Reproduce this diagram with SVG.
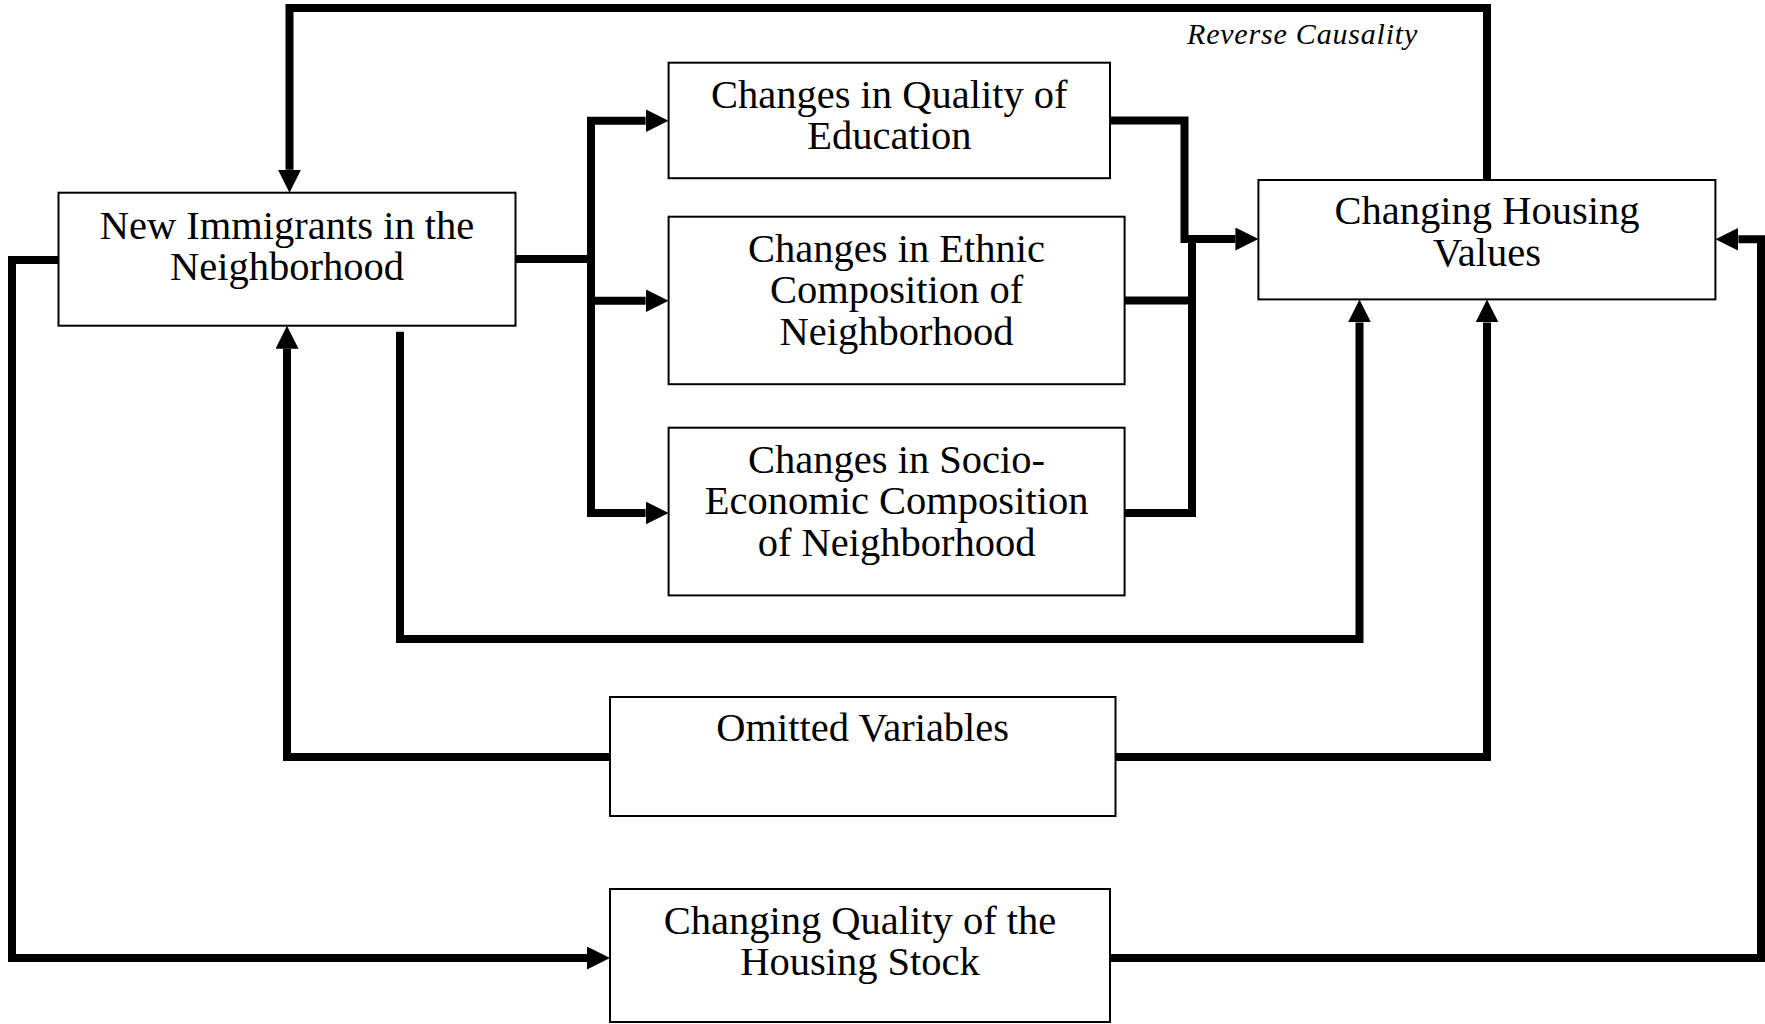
<svg xmlns="http://www.w3.org/2000/svg" width="1765" height="1024" viewBox="0 0 1765 1024">
<style>
.box{fill:#fff;stroke:#000;stroke-width:2}
.lbl{font-family:"Liberation Serif","Times New Roman",serif;font-size:40.5px;fill:#000;text-anchor:middle}
.note{font-family:"Liberation Serif","Times New Roman",serif;font-size:30px;font-style:italic;fill:#000;letter-spacing:0.8px}
.c{fill:none;stroke:#000;stroke-width:8;stroke-linejoin:miter;stroke-linecap:butt}
.a{marker-end:url(#ah)}
</style>
<defs>
<marker id="ah" markerUnits="userSpaceOnUse" markerWidth="23" markerHeight="23" refX="0" refY="11.5" orient="auto">
<path d="M0,0 L23,11.5 L0,23 z" fill="#000"/>
</marker>
</defs>
<rect width="1765" height="1024" fill="#fff"/>
<g id="connectors">
<path class="c a" d="M1487,180 V8 H289.5 V169.7"/>
<path class="c" d="M515.6,259 H591"/>
<path class="c a" d="M591,517 V120.7 H645.6"/>
<path class="c a" d="M591,300.7 H645.6"/>
<path class="c a" d="M591,513 H645.6"/>
<path class="c a" d="M1110,120.5 H1184.5 V239 H1235.4"/>
<path class="c" d="M1124.5,300.5 H1192"/>
<path class="c" d="M1124.5,513 H1192 V235"/>
<path class="c a" d="M400,331.7 V639 H1359.5 V322.4"/>
<path class="c a" d="M610,757 H287 V348.7"/>
<path class="c a" d="M1115.5,757 H1487 V322.4"/>
<path class="c a" d="M58.5,260 H12 V958 H587"/>
<path class="c a" d="M1110,958 H1761 V239.3 H1738.4"/>
<text class="note" x="1187" y="44">Reverse Causality</text>
</g>
<g id="new-immigrants">
<rect class="box" x="58.5" y="192.7" width="457" height="133"/>
<text class="lbl" x="287" y="238.5">New Immigrants in the</text>
<text class="lbl" x="287" y="280">Neighborhood</text>
</g>
<g id="education">
<rect class="box" x="668.6" y="62.7" width="441.4" height="115.5"/>
<text class="lbl" x="889.3" y="107.5">Changes in Quality of</text>
<text class="lbl" x="889.3" y="149">Education</text>
</g>
<g id="ethnic">
<rect class="box" x="668.6" y="216.7" width="456" height="167.5"/>
<text class="lbl" x="896.6" y="261.7">Changes in Ethnic</text>
<text class="lbl" x="896.6" y="303.3">Composition of</text>
<text class="lbl" x="896.6" y="345">Neighborhood</text>
</g>
<g id="socio">
<rect class="box" x="668.6" y="427.7" width="456" height="167.7"/>
<text class="lbl" x="896.6" y="472.6">Changes in Socio-</text>
<text class="lbl" x="896.6" y="514">Economic Composition</text>
<text class="lbl" x="896.6" y="556">of Neighborhood</text>
</g>
<g id="housing-values">
<rect class="box" x="1258.4" y="180" width="457" height="119.4"/>
<text class="lbl" x="1487" y="224">Changing Housing</text>
<text class="lbl" x="1487" y="265.5">Values</text>
</g>
<g id="omitted">
<rect class="box" x="610" y="697" width="505.5" height="119"/>
<text class="lbl" x="862.7" y="741">Omitted Variables</text>
</g>
<g id="housing-stock">
<rect class="box" x="610" y="889" width="500" height="133"/>
<text class="lbl" x="860" y="933.5">Changing Quality of the</text>
<text class="lbl" x="860" y="975">Housing Stock</text>
</g>
</svg>
